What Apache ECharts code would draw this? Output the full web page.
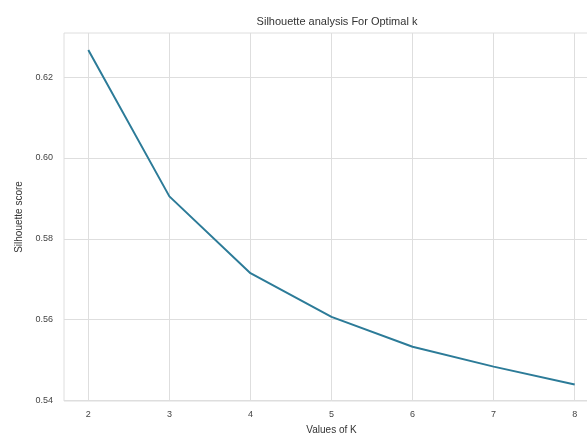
<!DOCTYPE html>
<html>
<head>
<meta charset="utf-8">
<style>
  html, body { margin: 0; padding: 0; background: #fff; overflow: hidden; }
  /* the reference is cropped on the right, so the canvas is wider than the window */
  #chart { width: 599px; height: 438px; }
</style>
<script src="https://cdn.jsdelivr.net/npm/echarts@6/dist/echarts.min.js"></script>
</head>
<body>
<div id="chart"></div>
<script>
// values of k and the silhouette score
const kValues = [2, 3, 4, 5, 6, 7, 8];
const scores = [0.6267, 0.5905, 0.5715, 0.5607, 0.5533, 0.5484, 0.5440];
const yTicks = [0.54, 0.56, 0.58, 0.60, 0.62];

const font = "'Liberation Sans', Arial, sans-serif";
const gridColor = "#dedede";

const chart = echarts.init(document.getElementById("chart"));
chart.setOption({
  animation: false,
  title: {
    text: "Silhouette analysis For Optimal k",
    left: 332,
    top: 11,
    textAlign: "center",
    textStyle: { fontFamily: font, fontSize: 11, fontWeight: "normal", color: "#333" },
  },
  grid: {
    left: 64,
    right: 0,
    top: 33,
    bottom: 37,
    outerBoundsMode: "none",
    show: true,
    borderColor: gridColor,
    borderWidth: 1,
  },
  xAxis: {
    type: "value",
    min: 1.7,
    max: 8.3,
    name: "Values of K",
    nameLocation: "middle",
    nameGap: 24,
    nameTextStyle: { fontFamily: font, fontSize: 10, color: "#333" },
    axisLine: { show: false },
    axisTick: { show: false, customValues: kValues },
    axisLabel: {
      fontFamily: font,
      fontSize: 9,
      color: "#444",
      margin: 9,
      customValues: kValues,
    },
    splitLine: { show: true, lineStyle: { color: gridColor, width: 1 } },
  },
  yAxis: {
    type: "value",
    min: 0.5399,
    max: 0.6309,
    name: "Silhouette score",
    nameLocation: "middle",
    nameGap: 40,
    nameTextStyle: { fontFamily: font, fontSize: 10, color: "#333" },
    axisLine: { show: false },
    axisTick: { show: false, customValues: yTicks },
    axisLabel: {
      fontFamily: font,
      fontSize: 9,
      color: "#444",
      margin: 11,
      customValues: yTicks,
      formatter: (v) => v.toFixed(2),
    },
    splitLine: { show: true, lineStyle: { color: gridColor, width: 1 } },
  },
  series: [
    {
      type: "line",
      data: kValues.map((k, i) => [k, scores[i]]),
      showSymbol: false,
      lineStyle: { color: "#2c7b98", width: 2 },
    },
  ],
});
</script>
</body>
</html>
